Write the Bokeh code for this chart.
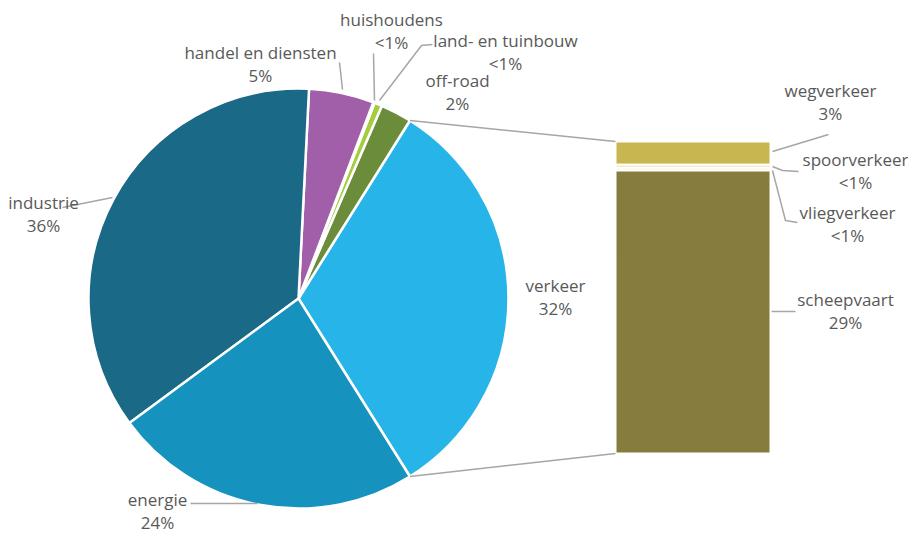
import numpy as np
from bokeh.plotting import figure
from bokeh.models import Range1d, ColumnDataSource
from bokeh.embed import file_html
from bokeh.resources import INLINE
from bokeh.core.properties import value

# ---------------- data ----------------
pie_labels = ["verkeer", "off-road", "land- en tuinbouw", "huishoudens",
              "handel en diensten", "industrie", "energie"]
pie_values = [32.2, 2.4, 0.6, 0.1, 5.0, 35.9, 23.8]
pie_pct = ["32%", "2%", "<1%", "<1%", "5%", "36%", "24%"]

bar_labels = ["wegverkeer", "spoorverkeer", "vliegverkeer", "scheepvaart"]
bar_values = [2.4, 0.3, 0.3, 29.2]
bar_pct = ["3%", "<1%", "<1%", "29%"]

# ---------------- styles / layout ----------------
pie_colors = ["#27B4E8", "#6B8D3B", "#A3CD3E", "#EDEDED", "#A05FA8", "#1A6986", "#1592BE"]
bar_colors = ["#C8B651", "#E6DDA2", "#F0EBCB", "#857C3E"]
TEXT_COLOR = "#595959"
LEADER_COLOR = "#A6A6A6"
FONT = "Open Sans"
FONT_SIZE = "17px"
LINE_GAP = 23

W, H = 908, 533
def Y(py):
    return H - py

cx, cy, R = 298, Y(298), 210
bar_x0, bar_x1 = 615, 770
bar_top, bar_bottom = Y(141), Y(453)

pie_label_x = [555, 457, 505, 391, 260, 43, 157]
pie_label_base = [285, 80, 40, 19, 52, 202, 499]
bar_label_x = [830, 855, 847, 845]
bar_label_base = [90, 159, 212, 299]

p = figure(width=W, height=H, x_range=Range1d(0, W), y_range=Range1d(0, H),
           x_axis_type=None, y_axis_type=None, toolbar_location=None,
           output_backend="svg", min_border=0, outline_line_color=None)
p.grid.visible = False
p.background_fill_color = "white"
p.border_fill_color = "white"

# ---------------- pie ----------------
vals = np.array(pie_values, dtype=float)
frac = vals / vals.sum()
start0 = -frac[0] * np.pi  # centre 'verkeer' on the right
ends = start0 + np.cumsum(frac) * 2 * np.pi
starts = np.concatenate([[start0], ends[:-1]])
pie_src = ColumnDataSource(dict(start=starts, end=ends, color=pie_colors))
p.wedge(x=cx, y=cy, radius=R, start_angle="start", end_angle="end",
        fill_color="color", line_color="white", line_width=2.5, source=pie_src)

# ---------------- bar ----------------
bv = np.array(bar_values, dtype=float)
scale = (bar_top - bar_bottom) / bv.sum()
tops = bar_top - np.concatenate([[0], np.cumsum(bv)[:-1]]) * scale
bottoms = tops - bv * scale
bar_src = ColumnDataSource(dict(top=tops, bottom=bottoms, color=bar_colors))
p.quad(left=bar_x0, right=bar_x1, top="top", bottom="bottom",
       fill_color="color", line_color="white", line_width=2, source=bar_src)

# ---------------- connector lines ----------------
a_top, a_bot = ends[0], starts[0]
p.line([cx + R * np.cos(a_top), bar_x0], [cy + R * np.sin(a_top), tops[0]],
       line_color=LEADER_COLOR, line_width=1.5)
p.line([cx + R * np.cos(a_bot), bar_x0], [cy + R * np.sin(a_bot), bottoms[-1]],
       line_color=LEADER_COLOR, line_width=1.5)

# ---------------- leader lines ----------------
leaders = [
    [(62, 207), (112, 197)],                 # industrie
    [(190, 503), (257, 503)],                # energie
    [(339, 62), (342, 89)],                  # handel en diensten
    [(373, 53), (374, 100)],                 # huishoudens
    [(432, 44), (421, 45), (379, 100)],      # land- en tuinbouw
    [(772, 151), (828, 134)],                # wegverkeer
    [(772, 166), (782, 170), (798, 171)],    # spoorverkeer
    [(772, 170), (785, 220), (797, 222)],    # vliegverkeer
    [(771, 311), (795, 311)],                # scheepvaart
]
p.multi_line(xs=[[pt[0] for pt in l] for l in leaders],
             ys=[[Y(pt[1]) for pt in l] for l in leaders],
             line_color=LEADER_COLOR, line_width=1.5)

# ---------------- labels ----------------
lab_x = pie_label_x + bar_label_x
names = pie_labels + bar_labels
pcts = pie_pct + bar_pct
bases = pie_label_base + bar_label_base
txt_src = ColumnDataSource(dict(
    x=lab_x + lab_x,
    y=[Y(b) for b in bases] + [Y(b + LINE_GAP) for b in bases],
    t=names + pcts))
p.text(x="x", y="y", text="t", source=txt_src, text_align="center",
       text_baseline="alphabetic", text_color=TEXT_COLOR,
       text_font=value(FONT), text_font_size=FONT_SIZE)

open("out.html", "w").write(file_html(p, INLINE))
